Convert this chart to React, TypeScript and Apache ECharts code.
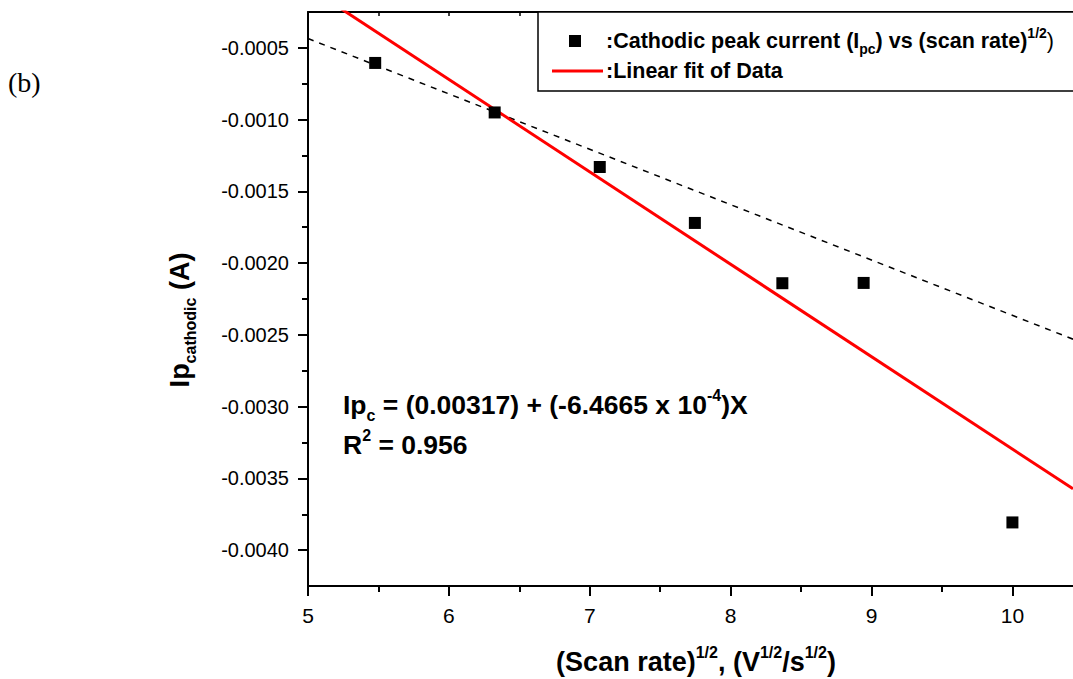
import React, { useEffect, useRef } from "react";
import * as echarts from "echarts";

// ---- data ----
const scanRateSqrt = [5.477, 6.325, 7.071, 7.746, 8.367, 8.944, 10.0];
const peakCurrent = [-0.000605, -0.00095, -0.00133, -0.00172, -0.00214, -0.002138, -0.003807];
const fitLine = [
  [5.0, -0.000076],
  [10.43, -0.003573],
];
const dashedLine = [
  [5.0, -0.000435],
  [10.43, -0.00253],
];
const xMajorTicks = [5, 6, 7, 8, 9, 10];
const xMinorTicks = [5.5, 6.5, 7.5, 8.5, 9.5];
const yMajorTicks = [-0.004, -0.0035, -0.003, -0.0025, -0.002, -0.0015, -0.001, -0.0005];
const yMinorTicks = [-0.00375, -0.00325, -0.00275, -0.00225, -0.00175, -0.00125, -0.00075];
const xRange = [5, 10.43];
const yRange = [-0.00425, -0.00025];

const SANS = "'Liberation Sans', Arial, Helvetica, sans-serif";
const AXIS_COLOR = "#000";

export default function App() {
  const ref = useRef<HTMLDivElement>(null);

  useEffect(() => {
    if (!ref.current) return;
    const chart = echarts.init(ref.current, undefined, { renderer: "svg" });

    const lineStyle = { color: AXIS_COLOR, width: 2 };
    const baseX = {
      type: "value" as const,
      min: xRange[0],
      max: xRange[1],
      splitLine: { show: false },
    };
    const baseY = {
      type: "value" as const,
      min: yRange[0],
      max: yRange[1],
      splitLine: { show: false },
    };

    chart.setOption({
      animation: false,
      backgroundColor: "#fff",
      grid: { left: 308, top: 12, right: 0, bottom: 93, containLabel: false },
      xAxis: [
        {
          ...baseX,
          position: "bottom",
          axisLine: { show: true, onZero: false, lineStyle },
          axisTick: { show: true, inside: false, length: 10, customValues: xMajorTicks, lineStyle },
          axisLabel: {
            show: true,
            customValues: xMajorTicks,
            margin: 19,
            fontSize: 21,
            color: "#000",
            fontFamily: SANS,
            formatter: (v: number) => String(v),
          },
        },
        {
          ...baseX,
          position: "bottom",
          axisLine: { show: false, onZero: false },
          axisTick: { show: true, inside: false, length: 6, customValues: xMinorTicks, lineStyle },
          axisLabel: { show: false },
        },
        {
          ...baseX,
          position: "top",
          axisLine: { show: true, onZero: false, lineStyle },
          axisTick: {
            show: true,
            inside: true,
            length: 4,
            customValues: [...xMajorTicks, ...xMinorTicks],
            lineStyle: { color: AXIS_COLOR, width: 1.5 },
          },
          axisLabel: { show: false },
        },
      ],
      yAxis: [
        {
          ...baseY,
          position: "left",
          axisLine: { show: true, onZero: false, lineStyle },
          axisTick: { show: true, inside: false, length: 10, customValues: yMajorTicks, lineStyle },
          axisLabel: {
            show: true,
            customValues: yMajorTicks,
            margin: 19,
            fontSize: 20,
            color: "#000",
            fontFamily: SANS,
            formatter: (v: number) => v.toFixed(4),
          },
        },
        {
          ...baseY,
          position: "left",
          axisLine: { show: false, onZero: false },
          axisTick: { show: true, inside: false, length: 6, customValues: yMinorTicks, lineStyle },
          axisLabel: { show: false },
        },
      ],
      series: [
        {
          name: "Fit guide",
          type: "line",
          xAxisIndex: 0,
          yAxisIndex: 0,
          data: dashedLine,
          showSymbol: false,
          symbol: "none",
          clip: true,
          lineStyle: { color: "#000", width: 1.5, type: [6, 6] },
          z: 2,
        },
        {
          name: ":Linear fit of Data",
          type: "line",
          xAxisIndex: 0,
          yAxisIndex: 0,
          data: fitLine,
          showSymbol: false,
          symbol: "none",
          clip: true,
          lineStyle: { color: "#ff0000", width: 3 },
          z: 3,
        },
        {
          name: ":Cathodic peak current",
          type: "scatter",
          xAxisIndex: 0,
          yAxisIndex: 0,
          data: scanRateSqrt.map((x, i) => [x, peakCurrent[i]]),
          symbol: "rect",
          symbolSize: 12,
          itemStyle: { color: "#000", opacity: 1 },
          z: 4,
        },
      ],
      graphic: [
        {
          type: "text",
          left: 8,
          top: 68,
          style: {
            text: "(b)",
            font: "28px 'Liberation Serif', 'Times New Roman', serif",
            fill: "#000",
          },
        },
        {
          type: "rect",
          shape: { x: 538, y: 12, width: 600, height: 79 },
          style: { fill: "#fff", stroke: "#000", lineWidth: 1.5 },
          z: 10,
        },
        {
          type: "rect",
          shape: { x: 569, y: 35, width: 12, height: 12 },
          style: { fill: "#000" },
          z: 11,
        },
        {
          type: "line",
          shape: { x1: 552, y1: 71, x2: 603, y2: 71 },
          style: { stroke: "#ff0000", lineWidth: 3 },
          z: 11,
        },
        {
          type: "text",
          x: 606,
          y: 41,
          z: 11,
          style: {
            text: "{b|:Cathodic peak current (I}{sub|pc}{b|) vs (scan rate)}{sup|1/2}{n|)}",
            verticalAlign: "middle",
            align: "left",
            rich: {
              b: { fontSize: 21.5, fontWeight: "bold", fontFamily: SANS, fill: "#000", lineHeight: 30 },
              n: { fontSize: 21.5, fontWeight: "normal", fontFamily: SANS, fill: "#000", lineHeight: 30 },
              sub: { fontSize: 14, fontWeight: "bold", fontFamily: SANS, fill: "#000", lineHeight: 14, verticalAlign: "bottom" },
              sup: { fontSize: 14, fontWeight: "bold", fontFamily: SANS, fill: "#000", lineHeight: 14, verticalAlign: "top" },
            },
          },
        },
        {
          type: "text",
          x: 606,
          y: 71,
          z: 11,
          style: {
            text: ":Linear fit of Data",
            verticalAlign: "middle",
            align: "left",
            font: `bold 21.5px ${SANS}`,
            fill: "#000",
          },
        },
        {
          type: "text",
          x: 343,
          y: 405,
          style: {
            text: "{b|Ip}{sub|c}{b| = (0.00317) + (-6.4665 x 10}{sup|-4}{b|)X}",
            verticalAlign: "middle",
            align: "left",
            rich: {
              b: { fontSize: 26.5, fontWeight: "bold", fontFamily: SANS, fill: "#000", lineHeight: 36 },
              sub: { fontSize: 16, fontWeight: "bold", fontFamily: SANS, fill: "#000", lineHeight: 16, verticalAlign: "bottom" },
              sup: { fontSize: 16, fontWeight: "bold", fontFamily: SANS, fill: "#000", lineHeight: 16, verticalAlign: "top" },
            },
          },
        },
        {
          type: "text",
          x: 343,
          y: 445,
          style: {
            text: "{b|R}{sup|2}{b| = 0.956}",
            verticalAlign: "middle",
            align: "left",
            rich: {
              b: { fontSize: 26.5, fontWeight: "bold", fontFamily: SANS, fill: "#000", lineHeight: 36 },
              sup: { fontSize: 16, fontWeight: "bold", fontFamily: SANS, fill: "#000", lineHeight: 16, verticalAlign: "top" },
            },
          },
        },
        {
          type: "text",
          x: 180,
          y: 320,
          rotation: Math.PI / 2,
          style: {
            text: "{b|Ip}{sub|cathodic}{b| (A)}",
            verticalAlign: "middle",
            align: "center",
            rich: {
              b: { fontSize: 27, fontWeight: "bold", fontFamily: SANS, fill: "#000", lineHeight: 36 },
              sub: { fontSize: 16, fontWeight: "bold", fontFamily: SANS, fill: "#000", lineHeight: 16, verticalAlign: "bottom" },
            },
          },
        },
        {
          type: "text",
          x: 696,
          y: 662,
          style: {
            text: "{b|(Scan rate)}{sup|1/2}{b|, (V}{sup|1/2}{b|/s}{sup|1/2}{b|)}",
            verticalAlign: "middle",
            align: "center",
            rich: {
              b: { fontSize: 27, fontWeight: "bold", fontFamily: SANS, fill: "#000", lineHeight: 36 },
              sup: { fontSize: 16, fontWeight: "bold", fontFamily: SANS, fill: "#000", lineHeight: 16, verticalAlign: "top" },
            },
          },
        },
      ],
    });

    return () => chart.dispose();
  }, []);

  return (
    <div
      style={{
        position: "fixed",
        left: 0,
        top: 0,
        width: 1073,
        height: 679,
        overflow: "hidden",
        background: "#fff",
      }}
    >
      <div ref={ref} style={{ width: 1073, height: 679 }} />
    </div>
  );
}
